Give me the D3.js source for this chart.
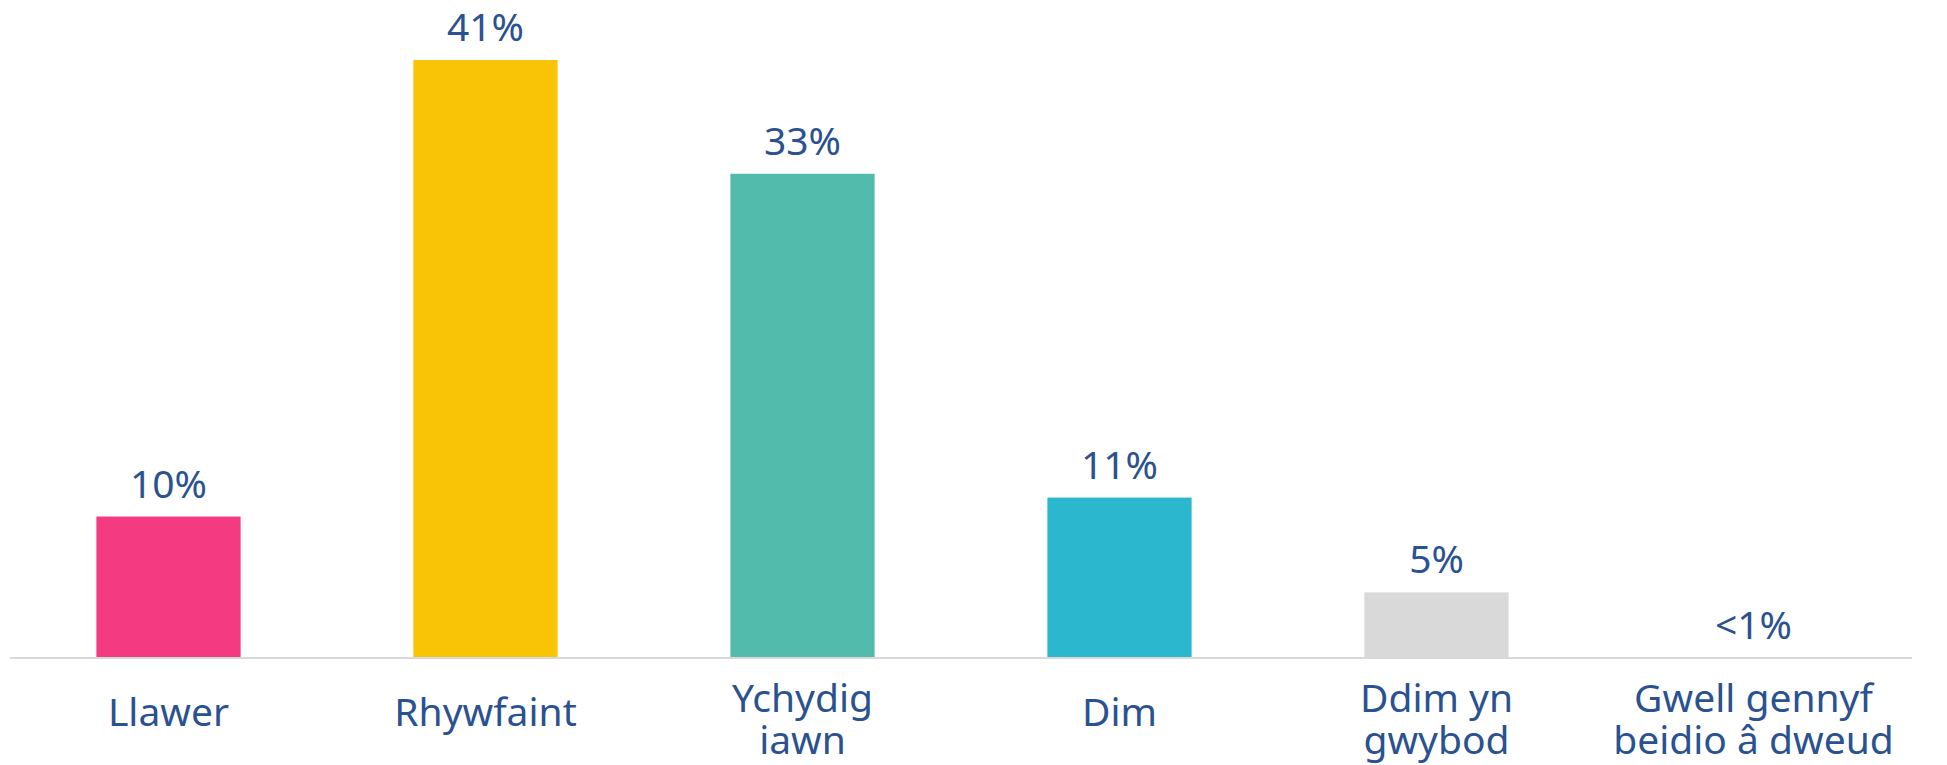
<!DOCTYPE html>
<html>
<head>
<meta charset="utf-8">
<script src="https://cdn.jsdelivr.net/npm/d3@7"></script>
<style>
  html, body { margin: 0; padding: 0; background: #fff; }
  svg { display: block; }
  text { font-family: "Noto Sans", "DejaVu Sans", Verdana, sans-serif; fill: #2b5290; }
</style>
</head>
<body>
<div id="chart"></div>
<script>
// data
const categories = ['Llawer', 'Rhywfaint', 'Ychydig iawn', 'Dim', 'Ddim yn gwybod', 'Gwell gennyf beidio â dweud'];
const labelLines = [['Llawer'], ['Rhywfaint'], ['Ychydig', 'iawn'], ['Dim'], ['Ddim yn', 'gwybod'], ['Gwell gennyf', 'beidio â dweud']];
const values = [9.7, 41, 33.2, 11, 4.5, 0];
const valueLabels = ['10%', '41%', '33%', '11%', '5%', '<1%'];
const colors = ['#f43a80', '#f9c406', '#52bbab', '#2bb8cf', '#d9d9d9', '#d9d9d9'];

const width = 1947, height = 765;
const left = 10, right = 1912, baseY = 658, topY = 60;

const svg = d3.select('#chart').append('svg')
  .attr('width', width)
  .attr('height', height);

const x = d3.scaleBand()
  .domain(categories)
  .range([left, right])
  .paddingInner(0.545)
  .paddingOuter(0.2725);

const y = d3.scaleLinear()
  .domain([0, 41])
  .range([baseY, topY]);

// bars
svg.append('g')
  .selectAll('rect')
  .data(values)
  .enter()
  .append('rect')
  .attr('x', (d, i) => x(categories[i]))
  .attr('y', d => y(d))
  .attr('width', x.bandwidth())
  .attr('height', d => baseY - y(d))
  .attr('fill', (d, i) => colors[i]);

// baseline
svg.append('line')
  .attr('x1', left).attr('x2', right)
  .attr('y1', baseY).attr('y2', baseY)
  .attr('stroke', '#d9d9d9')
  .attr('stroke-width', 2);

// value labels
svg.append('g')
  .selectAll('text')
  .data(values)
  .enter()
  .append('text')
  .attr('x', (d, i) => x(categories[i]) + x.bandwidth() / 2)
  .attr('y', d => y(d) - 19)
  .attr('text-anchor', 'middle')
  .attr('font-size', '39px')
  .text((d, i) => valueLabels[i]);

// category labels (wrapped like the original)
const cat = svg.append('g')
  .selectAll('text')
  .data(labelLines)
  .enter()
  .append('text')
  .attr('x', (d, i) => x(categories[i]) + x.bandwidth() / 2)
  .attr('y', d => 726 - (d.length - 1) * 14)
  .attr('text-anchor', 'middle')
  .attr('font-size', '39px');

cat.selectAll('tspan')
  .data(d => d)
  .enter()
  .append('tspan')
  .attr('x', function () { return d3.select(this.parentNode).attr('x'); })
  .attr('dy', (d, i) => i === 0 ? 0 : 42)
  .text(d => d);
</script>
</body>
</html>
